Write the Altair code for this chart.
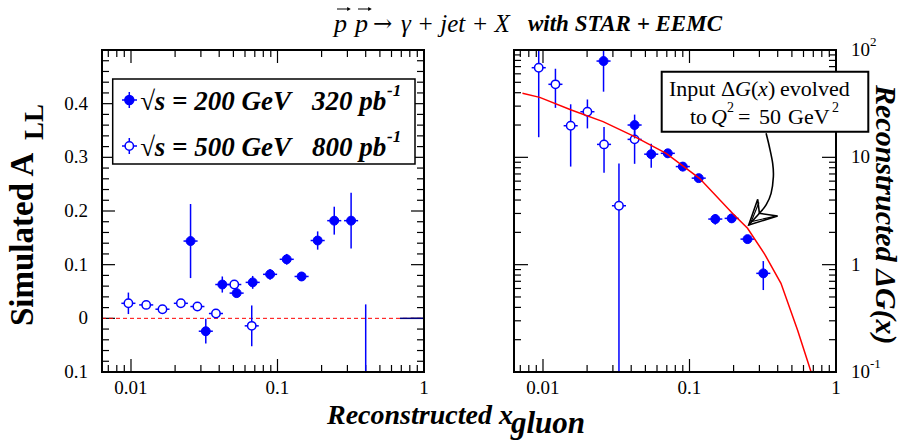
import altair as alt
import numpy as np
import pandas as pd

SERIF = "Liberation Serif"
BLUE = "#0000ff"
RED = "#ff0000"

# ---------------- data ----------------
# Left panel: simulated A_LL vs reconstructed x_gluon
all200_x = [0.0255, 0.0324, 0.042, 0.0526, 0.0677, 0.089, 0.1156, 0.146, 0.188, 0.244, 0.318, 0.40]
all200_y = [0.144, -0.024, 0.063, 0.047, 0.067, 0.082, 0.110, 0.078, 0.145, 0.182, 0.182, -0.35]
all200_e = [0.069, 0.023, 0.015, 0.008, 0.012, 0.010, 0.010, 0.008, 0.017, 0.026, 0.052, 0.376]

all500_x = [0.0096, 0.0127, 0.0164, 0.0219, 0.0284, 0.038, 0.0507, 0.0667]
all500_y = [0.028, 0.025, 0.017, 0.028, 0.022, 0.009, 0.063, -0.014]
all500_e = [0.020, 0.006, 0.006, 0.006, 0.006, 0.008, 0.008, 0.038]

# highest-x bin of the 200 GeV sample: no entries, only its x extent is drawn
empty_bin_lo = [0.686]
empty_bin_hi = [1.0]
empty_bin_y = [0.0]

# Right panel: reconstructed Delta G(x)
dg200_x = [0.0259, 0.0422, 0.0548, 0.0711, 0.090, 0.1156, 0.150, 0.194, 0.249, 0.319]
dg200_y = [78.9, 20.0, 10.7, 10.9, 8.2, 6.4, 2.66, 2.7, 1.73, 0.83]
dg200_e = [38.0, 5.0, 2.7, 1.0, 0.8, 0.5, 0.3, 0.25, 0.15, 0.25]

dg500_x = [0.00935, 0.01216, 0.01545, 0.0201, 0.0261, 0.033, 0.0422]
dg500_y = [68.4, 47.9, 19.7, 26.6, 13.2, 3.54, 14.7]
dg500_e = [53.0, 19.0, 11.5, 8.0, 6.0, 5.2, 6.0]

# input Delta G(x) evolved to Q^2 = 50 GeV^2
curve_x = [0.00724, 0.0095, 0.0156, 0.0257, 0.0422, 0.0693, 0.117, 0.197, 0.249, 0.324, 0.421, 0.547, 0.676]
curve_y = [39.5, 36.2, 27.6, 21.5, 15.6, 10.9, 6.37, 3.0, 2.18, 1.27, 0.67, 0.245, 0.1]

# curved arrow from the annotation box to the curve (right-panel data coordinates)
arrow_x = [0.3333, 0.3509, 0.3696, 0.3737, 0.3605, 0.3333, 0.3000, 0.2536]
arrow_y = [16.75, 12.56, 8.80, 6.60, 4.62, 3.60, 3.01, 2.34]
head_x = [0.2922, 0.2536, 0.3997, 0.3000, 0.2922]
head_y = [4.06, 2.34, 2.84, 3.01, 4.06]
head2_x = [0.2980, 0.2640, 0.3820]
head2_y = [3.80, 2.52, 2.82]

# axis ticks and labels
x_major = [0.01, 0.1, 1.0]
x_minor = [0.007, 0.008, 0.009,
           0.02, 0.03, 0.04, 0.05, 0.06, 0.07, 0.08, 0.09,
           0.2, 0.3, 0.4, 0.5, 0.6, 0.7, 0.8, 0.9]
x_labels = ["0.01", "0.1", "1"]

lin_major = [-0.1, 0.0, 0.1, 0.2, 0.3, 0.4, 0.5]
lin_minor = [-0.08, -0.06, -0.04, -0.02, 0.02, 0.04, 0.06, 0.08,
             0.12, 0.14, 0.16, 0.18, 0.22, 0.24, 0.26, 0.28,
             0.32, 0.34, 0.36, 0.38, 0.42, 0.44, 0.46, 0.48]
lin_label_vals = [-0.1, 0.0, 0.1, 0.2, 0.3, 0.4]
lin_labels = ["0.1", "0", "0.1", "0.2", "0.3", "0.4"]

log_major = [0.1, 1.0, 10.0, 100.0]
log_minor = [0.2, 0.3, 0.4, 0.5, 0.6, 0.7, 0.8, 0.9,
             2, 3, 4, 5, 6, 7, 8, 9,
             20, 30, 40, 50, 60, 70, 80, 90]
log_label_vals = [100.0, 10.0, 1.0, 0.1]
log_labels = ["10", "10", "1", "10"]
log_label_exp = ["2", "", "", "-1"]

# ---------------- layout ----------------
W, H = 902, 440
LEFT = (102, 424)
RIGHT = (514, 836)
TOP, BOTTOM = 50, 372
X_MIN = 0.00634


def xscale(rng):
    return alt.Scale(type="log", domain=[X_MIN, 1.0], range=list(rng), nice=False)


Y_LIN = alt.Scale(type="linear", domain=[-0.1, 0.5], range=[BOTTOM, TOP], nice=False, zero=False)
Y_LOG = alt.Scale(type="log", domain=[0.1, 100.0], range=[BOTTOM, TOP], nice=False)
ONE = pd.DataFrame({"k": [0]})


def txt(s, x, y, size, style="normal", weight="normal", align="left",
        angle=0, baseline="alphabetic", color="black", font=SERIF):
    return alt.Chart(ONE).mark_text(
        text=s, font=font, fontSize=size, fontStyle=style, fontWeight=weight,
        align=align, angle=angle, baseline=baseline, color=color,
    ).encode(x=alt.value(x), y=alt.value(y))


def box(x0, x1, y0, y1, width, fill="transparent"):
    return alt.Chart(ONE).mark_rect(fill=fill, stroke="black", strokeWidth=width).encode(
        x=alt.value(x0), x2=alt.value(x1), y=alt.value(y0), y2=alt.value(y1))


def vec_arrow(x0, x1, y):
    # small vector arrow drawn over a symbol
    shaft = alt.Chart(ONE).mark_rule(color="black", strokeWidth=1).encode(
        x=alt.value(x0), x2=alt.value(x1 - 2), y=alt.value(y))
    tip = alt.Chart(ONE).mark_point(shape="triangle-right", filled=True, color="black",
                                    size=18, opacity=1).encode(
        x=alt.value(x1 - 2), y=alt.value(y))
    return [shaft, tip]


def x_ticks(vals, rng, length):
    df = pd.DataFrame({"v": vals})
    ex = alt.X("v:Q", scale=xscale(rng), axis=None)
    rule = alt.Chart(df).mark_rule(color="black", strokeWidth=1.2)
    return [rule.encode(x=ex, y=alt.value(BOTTOM), y2=alt.value(BOTTOM - length)),
            rule.encode(x=ex, y=alt.value(TOP), y2=alt.value(TOP + length))]


def y_ticks(vals, ysc, rng, length):
    df = pd.DataFrame({"v": vals})
    ey = alt.Y("v:Q", scale=ysc, axis=None)
    rule = alt.Chart(df).mark_rule(color="black", strokeWidth=1.2)
    return [rule.encode(y=ey, x=alt.value(rng[0]), x2=alt.value(rng[0] + length)),
            rule.encode(y=ey, x=alt.value(rng[1]), x2=alt.value(rng[1] - length))]


def series(xv, yv, ev, rng, ysc, ylo, yhi, filled):
    df = pd.DataFrame({"x": xv, "y": yv, "e": ev})
    df["lo"] = np.clip(df["y"] - df["e"], ylo, yhi)
    df["hi"] = np.clip(df["y"] + df["e"], ylo, yhi)
    df["xl"] = df["x"] * 10 ** -0.048
    df["xr"] = df["x"] * 10 ** 0.048
    shown = df[(df["y"] >= ylo) & (df["y"] <= yhi)]
    xsc = xscale(rng)
    vbar = alt.Chart(df).mark_rule(color=BLUE, strokeWidth=1.5).encode(
        x=alt.X("x:Q", scale=xsc, axis=None),
        y=alt.Y("lo:Q", scale=ysc, axis=None), y2="hi:Q")
    hbar = alt.Chart(shown).mark_rule(color=BLUE, strokeWidth=1.5).encode(
        x=alt.X("xl:Q", scale=xsc, axis=None), x2="xr:Q",
        y=alt.Y("y:Q", scale=ysc, axis=None))
    if filled:
        mk = alt.Chart(shown).mark_point(shape="circle", filled=True, fill=BLUE,
                                         stroke=BLUE, strokeWidth=1, size=80, opacity=1)
    else:
        mk = alt.Chart(shown).mark_point(shape="circle", filled=True, fill="white",
                                         stroke=BLUE, strokeWidth=1.5, size=70, opacity=1)
    pts = mk.encode(x=alt.X("x:Q", scale=xsc, axis=None),
                    y=alt.Y("y:Q", scale=ysc, axis=None))
    return [vbar, hbar, pts]


def path(xv, yv, rng, ysc, color, width, interp="linear"):
    df = pd.DataFrame({"x": xv, "y": yv, "i": range(len(xv))})
    return alt.Chart(df).mark_line(color=color, strokeWidth=width, interpolate=interp).encode(
        x=alt.X("x:Q", scale=xscale(rng), axis=None),
        y=alt.Y("y:Q", scale=ysc, axis=None),
        order=alt.Order("i:Q"))


layers = []

# ticks on all four sides of both frames
for rng in (LEFT, RIGHT):
    layers += x_ticks(x_major, rng, 13)
    layers += x_ticks(x_minor, rng, 7)
layers += y_ticks(lin_major, Y_LIN, LEFT, 13)
layers += y_ticks(lin_minor, Y_LIN, LEFT, 7)
layers += y_ticks(log_major, Y_LOG, RIGHT, 14)
layers += y_ticks(log_minor, Y_LOG, RIGHT, 7)

# zero line of the asymmetry panel
layers.append(alt.Chart(pd.DataFrame({"y": [0.0]})).mark_rule(
    color=RED, strokeWidth=1, strokeDash=[4, 3]).encode(
    y=alt.Y("y:Q", scale=Y_LIN, axis=None), x=alt.value(LEFT[0]), x2=alt.value(LEFT[1])))

# empty top bin
layers.append(alt.Chart(pd.DataFrame({"lo": empty_bin_lo, "hi": empty_bin_hi, "y": empty_bin_y}))
              .mark_rule(color="#000080", strokeWidth=1.5).encode(
    x=alt.X("lo:Q", scale=xscale(LEFT), axis=None), x2="hi:Q",
    y=alt.Y("y:Q", scale=Y_LIN, axis=None)))

# data points
layers += series(all500_x, all500_y, all500_e, LEFT, Y_LIN, -0.1, 0.5, False)
layers += series(all200_x, all200_y, all200_e, LEFT, Y_LIN, -0.1, 0.5, True)
layers += series(dg500_x, dg500_y, dg500_e, RIGHT, Y_LOG, 0.1, 100.0, False)
layers += series(dg200_x, dg200_y, dg200_e, RIGHT, Y_LOG, 0.1, 100.0, True)

# input curve
layers.append(path(curve_x, curve_y, RIGHT, Y_LOG, RED, 1.5))

# frames
layers.append(box(LEFT[0], LEFT[1], TOP, BOTTOM, 2))
layers.append(box(RIGHT[0], RIGHT[1], TOP, BOTTOM, 2))

# annotation: arrow and box
layers.append(path(arrow_x, arrow_y, RIGHT, Y_LOG, "black", 1.6, "cardinal"))
layers.append(path(head_x, head_y, RIGHT, Y_LOG, "black", 1.6))
layers.append(path(head2_x, head2_y, RIGHT, Y_LOG, "black", 1.2))
layers.append(box(661.7, 868.3, 71.7, 131.7, 2, "white"))
layers += [
    txt("Input \u0394", 669, 96, 22),
    txt("G", 735, 96, 22, style="italic"),
    txt("(", 751, 96, 22),
    txt("x", 758, 96, 22, style="italic"),
    txt(")", 768, 96, 22),
    txt("evolved", 780, 96, 22),
    txt("to", 690, 123.5, 22),
    txt("Q", 711, 123.5, 22, style="italic"),
    txt("2", 727, 112, 14),
    txt("=", 738, 123.5, 22),
    txt("50", 759, 123.5, 22),
    txt("GeV", 788, 123.5, 22),
    txt("2", 832, 112, 14),
]

# legend
layers.append(box(112.7, 415, 79, 164, 1.5, "white"))
for yy, filled in ((100, True), (146, False)):
    cross = alt.Chart(ONE).mark_rule(color=BLUE, strokeWidth=1.5)
    layers.append(cross.encode(x=alt.value(129.3), y=alt.value(yy - 8), y2=alt.value(yy + 8)))
    layers.append(cross.encode(x=alt.value(122), x2=alt.value(137), y=alt.value(yy)))
    layers.append(alt.Chart(ONE).mark_point(
        shape="circle", filled=True, fill=BLUE if filled else "white", stroke=BLUE,
        strokeWidth=1.5, size=80 if filled else 70, opacity=1).encode(
        x=alt.value(129.3), y=alt.value(yy)))
layers += [
    txt("\u221as = 200 GeV", 140, 110, 27, style="italic", weight="bold"),
    txt("320 pb", 312, 110, 27, style="italic", weight="bold"),
    txt("-1", 387, 96, 17, style="italic", weight="bold"),
    txt("\u221as = 500 GeV", 140, 156, 27, style="italic", weight="bold"),
    txt("800 pb", 312, 156, 27, style="italic", weight="bold"),
    txt("-1", 387, 142, 17, style="italic", weight="bold"),
]

# tick labels
for rng in (LEFT, RIGHT):
    layers.append(alt.Chart(pd.DataFrame({"v": x_major, "t": x_labels})).mark_text(
        font=SERIF, fontSize=19, baseline="top", align="center").encode(
        x=alt.X("v:Q", scale=xscale(rng), axis=None), y=alt.value(379), text="t:N"))
layers.append(alt.Chart(pd.DataFrame({"v": lin_label_vals, "t": lin_labels})).mark_text(
    font=SERIF, fontSize=19, baseline="middle", align="right").encode(
    y=alt.Y("v:Q", scale=Y_LIN, axis=None), x=alt.value(88), text="t:N"))
log_df = pd.DataFrame({"v": log_label_vals, "t": log_labels, "e": log_label_exp})
layers.append(alt.Chart(log_df).mark_text(
    font=SERIF, fontSize=19, baseline="middle", align="left").encode(
    y=alt.Y("v:Q", scale=Y_LOG, axis=None), x=alt.value(851), text="t:N"))
layers.append(alt.Chart(log_df).mark_text(
    font=SERIF, fontSize=13, baseline="middle", align="left", dy=-8).encode(
    y=alt.Y("v:Q", scale=Y_LOG, axis=None), x=alt.value(870), text="e:N"))

# titles
layers += vec_arrow(337, 351, 9)
layers += vec_arrow(358, 372, 9)
layers += [
    txt("p", 334, 32, 26, style="italic"),
    txt("p", 355, 32, 26, style="italic"),
    txt("\u2192", 373, 31, 23, font="DejaVu Serif"),
    txt("\u03b3 + jet + X", 401, 32, 25, style="italic"),
    txt("with STAR + EEMC", 528, 31, 23, style="italic", weight="bold"),
    txt("Reconstructed x", 327, 424, 28, style="italic", weight="bold"),
    txt("gluon", 511, 433, 31, style="italic", weight="bold"),
    txt("Simulated  A", 33, 326, 33, weight="bold", angle=270),
    txt("LL", 43, 140, 27, weight="bold", angle=270),
    txt("Reconstructed \u0394G(x)", 876, 85, 30, style="italic", weight="bold", angle=90),
]

chart = alt.layer(*layers).resolve_scale(
    x="independent", y="independent"
).properties(
    width=W, height=H, autosize=alt.AutoSizeParams(type="none"), padding=0,
    background="white",
).configure_view(stroke=None)

chart.save("out.html", embed_options={"renderer": "svg", "actions": False})
